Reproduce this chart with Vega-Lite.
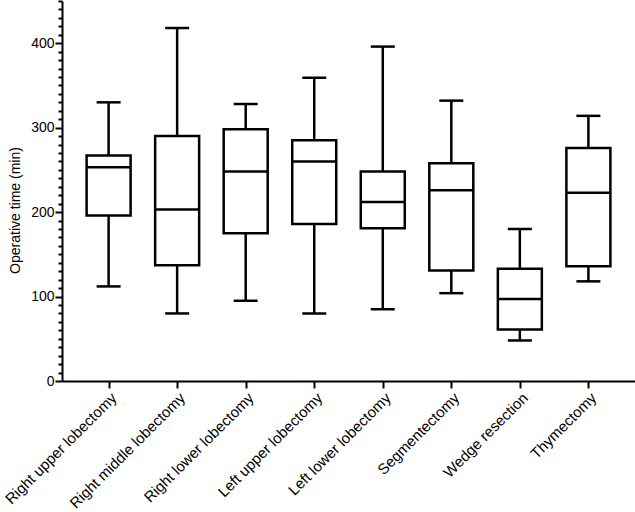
{
  "$schema": "https://vega.github.io/schema/vega-lite/v6.json",
  "width": 573,
  "height": 380,
  "autosize": {"type": "none"},
  "padding": {"left": 62, "top": 1, "right": 0, "bottom": 131},
  "config": {
    "view": {"stroke": null},
    "font": "Liberation Sans",
    "axis": {
      "domainColor": "black",
      "domainWidth": 2,
      "tickColor": "black",
      "tickWidth": 2,
      "labelColor": "black",
      "titleColor": "black",
      "labelFontSize": 14,
      "titleFontSize": 14,
      "titleFontWeight": "normal",
      "grid": false
    }
  },
  "data": {
    "values": [
      {"procedure": "Right upper lobectomy", "min": 112, "q1": 196, "median": 253, "q3": 267, "max": 330},
      {"procedure": "Right middle lobectomy", "min": 80, "q1": 137, "median": 203, "q3": 290, "max": 418},
      {"procedure": "Right lower lobectomy", "min": 95, "q1": 175, "median": 248, "q3": 298, "max": 328},
      {"procedure": "Left upper lobectomy", "min": 80, "q1": 186, "median": 260, "q3": 285, "max": 359},
      {"procedure": "Left lower lobectomy", "min": 85, "q1": 181, "median": 212, "q3": 248, "max": 396},
      {"procedure": "Segmentectomy", "min": 104, "q1": 131, "median": 226, "q3": 258, "max": 332},
      {"procedure": "Wedge resection", "min": 48, "q1": 61, "median": 97, "q3": 133, "max": 180},
      {"procedure": "Thymectomy", "min": 118, "q1": 136, "median": 223, "q3": 276, "max": 314}
    ]
  },
  "encoding": {
    "x": {
      "field": "procedure",
      "type": "nominal",
      "sort": null,
      "scale": {"type": "point", "padding": 0.68},
      "axis": {"title": null, "labelAngle": -45, "tickSize": 7, "labelPadding": 2, "labelFontSize": 15}
    },
    "y": {
      "field": "min",
      "type": "quantitative",
      "scale": {"domain": [0, 450], "nice": false},
      "axis": {
        "title": "Operative time (min)",
        "values": [0,10,20,30,40,50,60,70,80,90,100,110,120,130,140,150,160,170,180,190,200,210,220,230,240,250,260,270,280,290,300,310,320,330,340,350,360,370,380,390,400,410,420,430,440,450],
        "labelExpr": "datum.value % 100 === 0 ? datum.label : ''",
        "labelOverlap": false,
        "tickSize": {"condition": {"test": "datum.value % 100 === 0", "value": 7}, "value": 4},
        "labelPadding": 1,
        "titlePadding": 8,
        "titleY": 209
      }
    }
  },
  "layer": [
    {
      "mark": {"type": "rule", "color": "black", "strokeWidth": 2.5},
      "encoding": {
        "y2": {"field": "max"}
      }
    },
    {
      "mark": {"type": "bar", "width": 44, "fill": "white", "stroke": "black", "strokeWidth": 2.5},
      "encoding": {
        "y": {"field": "q1", "type": "quantitative"},
        "y2": {"field": "q3"}
      }
    },
    {
      "mark": {"type": "tick", "size": 44, "thickness": 2.5, "color": "black", "opacity": 1},
      "encoding": {"y": {"field": "median", "type": "quantitative"}}
    },
    {
      "mark": {"type": "tick", "size": 24, "thickness": 2.5, "color": "black", "opacity": 1},
      "encoding": {"y": {"field": "min", "type": "quantitative"}}
    },
    {
      "mark": {"type": "tick", "size": 24, "thickness": 2.5, "color": "black", "opacity": 1},
      "encoding": {"y": {"field": "max", "type": "quantitative"}}
    }
  ]
}
